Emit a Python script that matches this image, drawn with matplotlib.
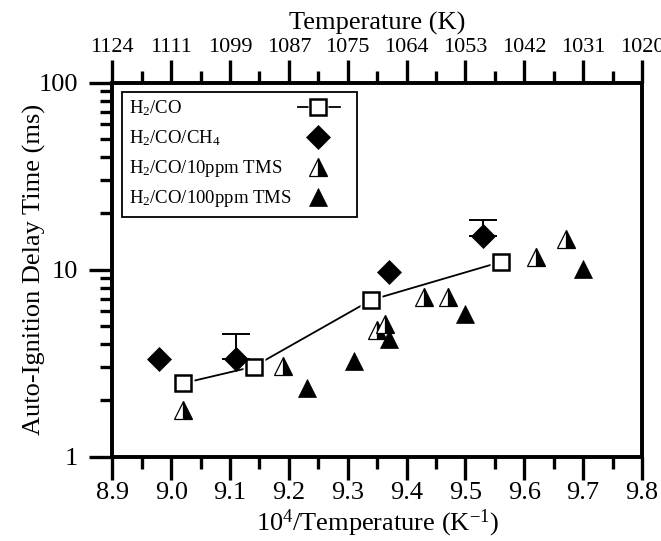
import matplotlib
matplotlib.use("Agg")
import matplotlib.pyplot as plt
from matplotlib.patches import Rectangle
from matplotlib.ticker import FixedLocator, NullFormatter, LogLocator
import numpy as np

plt.rcParams['font.family'] = ['Liberation Serif', 'DejaVu Serif']
plt.rcParams['mathtext.fontset'] = 'custom'
plt.rcParams['mathtext.rm'] = 'Liberation Serif'
plt.rcParams['mathtext.it'] = 'Liberation Serif:italic'
plt.rcParams['mathtext.bf'] = 'Liberation Serif:bold'

# ---------------- data ----------------
h2co_x = [9.02, 9.14, 9.34, 9.56]
h2co_y = [2.47, 3.03, 6.89, 11.0]

ch4_x = [8.98, 9.11, 9.37, 9.53]
ch4_y = [3.32, 3.32, 9.75, 15.2]
ch4_err_up = [0.0, 1.21, 0.0, 3.2]

tms10_x = [9.02, 9.19, 9.35, 9.363, 9.43, 9.47, 9.62, 9.67]
tms10_y = [1.78, 3.05, 4.76, 5.12, 7.12, 7.12, 11.7, 14.6]

tms100_x = [9.23, 9.31, 9.37, 9.50, 9.70]
tms100_y = [2.32, 3.26, 4.24, 5.77, 10.05]

bottom_ticks = [8.9, 9.0, 9.1, 9.2, 9.3, 9.4, 9.5, 9.6, 9.7, 9.8]
bottom_labels = ['8.9', '9.0', '9.1', '9.2', '9.3', '9.4', '9.5', '9.6', '9.7', '9.8']
top_labels = ['1124', '1111', '1099', '1087', '1075', '1064', '1053', '1042', '1031', '1020']
y_ticks = [1, 10, 100]
y_labels = ['1', '10', '100']

labels = ['H$_2$/CO', 'H$_2$/CO/CH$_4$', 'H$_2$/CO/10ppm TMS', 'H$_2$/CO/100ppm TMS']

# ---------------- styles ----------------
sq_style = dict(marker='s', ms=11.5, mfc='white', mec='black', mew=1.8, ls='none')
sq_mask = dict(marker='s', ms=16, mfc='white', mec='none', ls='none')
dia_style = dict(marker='D', ms=12, mfc='black', mec='black', mew=0.5, ls='none')
half_style = dict(marker='^', ms=12.5, fillstyle='right', mfc='black',
                  markerfacecoloralt='white', mec='black', mew=0.9, ls='none')
full_style = dict(marker='^', ms=12.5, mfc='black', mec='black', mew=0.5, ls='none')

# ---------------- figure ----------------
fig = plt.figure(figsize=(6.61, 5.41), dpi=100)
ax = fig.add_axes([0.1699, 0.1558, 0.8014, 0.6913])

ax.set_xlim(8.9, 9.8)
ax.set_yscale('log')
ax.set_ylim(1, 100)

# H2/CO line with gaps around squares
ax.plot(h2co_x, h2co_y, '-', color='black', lw=1.3, zorder=2)
ax.plot(h2co_x, h2co_y, zorder=2.5, **sq_mask)
ax.plot(h2co_x, h2co_y, zorder=3, **sq_style)

# error bars on CH4 diamonds (upper only)
ex = [x for x, e in zip(ch4_x, ch4_err_up) if e > 0]
ey = [y for y, e in zip(ch4_y, ch4_err_up) if e > 0]
ee = [e for e in ch4_err_up if e > 0]
ax.errorbar(ex, ey, yerr=[np.zeros(len(ee)), ee], fmt='none', ecolor='black',
            elinewidth=1.4, capsize=10, capthick=1.4, zorder=2.8)
ax.plot(ch4_x, ch4_y, zorder=3, **dia_style)

ax.plot(tms10_x, tms10_y, zorder=3, **half_style)
ax.plot(tms100_x, tms100_y, zorder=3, **full_style)

# axes styling
for s in ax.spines.values():
    s.set_linewidth(2.6)

ax.set_xticks(bottom_ticks)
ax.set_xticklabels(bottom_labels)
ax.xaxis.set_minor_locator(FixedLocator([t + 0.05 for t in bottom_ticks[:-1]]))
ax.set_yticks(y_ticks)
ax.set_yticklabels(y_labels)
ax.yaxis.set_minor_locator(LogLocator(base=10, subs=np.arange(2, 10)))
ax.yaxis.set_minor_formatter(NullFormatter())

ax.tick_params(axis='both', which='major', direction='out', length=16.5, width=2.4,
               labelsize=19, top=False, right=False)
ax.tick_params(axis='both', which='minor', direction='out', length=8.5, width=2.4,
               top=False, right=False)
ax.tick_params(axis='x', which='major', pad=2)
ax.tick_params(axis='y', which='major', pad=8)

ax.set_xlabel('10$^4$/Temperature (K$^{-1}$)', fontsize=19, labelpad=2)
ax.set_ylabel('Auto-Ignition Delay Time (ms)', fontsize=19, labelpad=-5)

# top axis
ax2 = ax.twiny()
ax2.set_xlim(ax.get_xlim())
ax2.set_xticks(bottom_ticks)
ax2.set_xticklabels(top_labels)
ax2.xaxis.set_minor_locator(FixedLocator([t + 0.05 for t in bottom_ticks[:-1]]))
ax2.tick_params(axis='x', which='major', direction='out', length=16.5, width=2.4,
                labelsize=16, pad=2)
ax2.tick_params(axis='x', which='minor', direction='out', length=8.5, width=2.4)
ax2.set_xlabel('Temperature (K)', fontsize=19, labelpad=6)
for s in ax2.spines.values():
    s.set_linewidth(2.6)

# ---------------- manual legend (text left, markers right) ----------------
T = ax.transAxes
ax.add_patch(Rectangle((0.0183, 0.641), 0.4437, 0.334, transform=T, facecolor='white',
                       edgecolor='black', lw=1.3, zorder=5, clip_on=False))
text_x = 0.0315
base_y = [0.918, 0.838, 0.758, 0.678]
mark_y = [0.934, 0.854, 0.774, 0.694]
mark_x = 0.389
for lab, by in zip(labels, base_y):
    ax.text(text_x, by, lab, transform=T, fontsize=13.5, ha='left', va='baseline', zorder=6)
ax.plot([0.350, 0.430], [mark_y[0], mark_y[0]], transform=T, color='black', lw=1.3,
        zorder=6, clip_on=False)
ax.plot([mark_x], [mark_y[0]], transform=T, zorder=6.5, clip_on=False,
        **dict(sq_mask, ms=14.5))
ax.plot([mark_x], [mark_y[0]], transform=T, zorder=7, clip_on=False, **sq_style)
ax.plot([mark_x], [mark_y[1]], transform=T, zorder=7, clip_on=False, **dia_style)
ax.plot([mark_x], [mark_y[2]], transform=T, zorder=7, clip_on=False, **half_style)
ax.plot([mark_x], [mark_y[3]], transform=T, zorder=7, clip_on=False, **full_style)

fig.savefig('out.png', dpi=100)
